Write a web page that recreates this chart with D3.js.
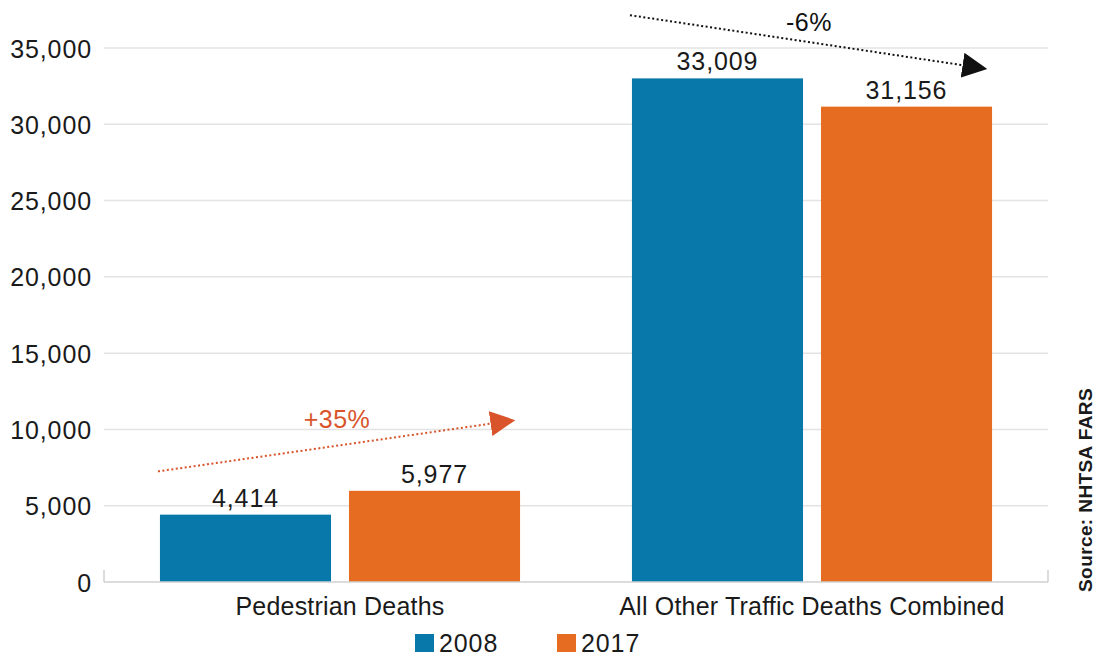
<!DOCTYPE html>
<html>
<head>
<meta charset="utf-8">
<script src="https://cdn.jsdelivr.net/npm/d3@7"></script>
<style>
  body { margin: 0; background: #fff; }
  text { font-family: "Liberation Sans", Arial, sans-serif; fill: #1a1a1a; }
</style>
</head>
<body>
<div id="chart"></div>
<script>
      var w = 1096;
      var h = 656;

      // data
      var categories = ['Pedestrian Deaths', 'All Other Traffic Deaths Combined'];
      var series = ['2008', '2017'];
      var values2008 = [4414, 33009];
      var values2017 = [5977, 31156];
      var yTicks = [0, 5000, 10000, 15000, 20000, 25000, 30000, 35000];
      var seriesColors = ['#0877aa', '#e66c22'];
      // change annotations: category index, arrow start / end value, label value
      var changes = [
        {cat: 0, from: 7250, to: 10400, labelAt: 10100, label: '+35%', color: '#d9542b'},
        {cat: 1, from: 37150, to: 33850, labelAt: 36100, label: '-6%', color: '#111'}
      ];

      var margin = {left: 104, right: 48, top: 48, bottom: 74};

      var svg = d3.select('#chart')
            .append('svg')
            .attr('width', w)
            .attr('height', h);

      var x0 = d3.scaleBand()
            .domain(categories)
            .range([margin.left, w - margin.right])
            .padding(0);

      var x1 = d3.scaleBand()
            .domain(series)
            .range([0, x0.bandwidth()])
            .paddingInner(0.095)
            .paddingOuter(0.296);

      var yScale = d3.scaleLinear()
            .domain([0, 35000])
            .range([h - margin.bottom, margin.top]);

      var fmt = d3.format(',');

      //gridlines
      svg.selectAll('.grid')
         .data(yTicks.slice(1))
         .enter().append('line')
         .attr('x1', margin.left)
         .attr('x2', w - margin.right)
         .attr('y1', function(d) { return yScale(d); })
         .attr('y2', function(d) { return yScale(d); })
         .style('stroke', '#e3e3e3')
         .style('stroke-width', 1.5);

      //y axis labels
      var yAxis = d3.axisLeft(yScale)
            .tickValues(yTicks)
            .tickFormat(fmt)
            .tickSize(0)
            .tickPadding(12);

      var gy = svg.append('g')
        .attr('transform', 'translate(' + margin.left + ',0)')
        .call(yAxis);
      gy.select('.domain').remove();
      gy.selectAll('text')
        .style('font-size', '25px')
        .style('letter-spacing', '0.9px')
        .style('font-family', '"Liberation Sans", Arial, sans-serif')
        .attr('dy', '0.36em')
        .style('fill', '#1a1a1a');

      //bars
      var rows = categories.map(function(c, i) {
        return [{cat: c, s: series[0], v: values2008[i], c: 0},
                {cat: c, s: series[1], v: values2017[i], c: 1}];
      });

      var groups = svg.selectAll('.group')
        .data(rows)
        .enter().append('g')
        .attr('transform', function(d, i) { return 'translate(' + x0(categories[i]) + ',0)'; });

      groups.selectAll('rect')
        .data(function(d) { return d; })
        .enter().append('rect')
        .attr('x', function(d) { return x1(d.s); })
        .attr('y', function(d) { return yScale(d.v); })
        .attr('width', x1.bandwidth())
        .attr('height', function(d) { return yScale(0) - yScale(d.v); })
        .style('fill', function(d) { return seriesColors[d.c]; });

      groups.selectAll('.val')
        .data(function(d) { return d; })
        .enter().append('text')
        .attr('x', function(d) { return x1(d.s) + x1.bandwidth() / 2; })
        .attr('y', function(d) { return yScale(d.v) - 8; })
        .attr('text-anchor', 'middle')
        .style('font-size', '25px')
        .style('letter-spacing', '0.9px')
        .text(function(d) { return fmt(d.v); });

      //baseline + end ticks
      svg.append('line')
        .attr('x1', margin.left).attr('x2', w - margin.right)
        .attr('y1', yScale(0)).attr('y2', yScale(0))
        .style('stroke', '#d0d0d0').style('stroke-width', 1.5);
      [margin.left, w - margin.right].forEach(function(xx) {
        svg.append('line')
          .attr('x1', xx).attr('x2', xx)
          .attr('y1', yScale(0) - 12).attr('y2', yScale(0))
          .style('stroke', '#d0d0d0').style('stroke-width', 1.5);
      });

      //category labels
      svg.selectAll('.cat')
        .data(categories)
        .enter().append('text')
        .attr('x', function(d) { return x0(d) + x0.bandwidth() / 2; })
        .attr('y', yScale(0) + 33)
        .attr('text-anchor', 'middle')
        .style('font-size', '25px')
        .style('letter-spacing', '0.2px')
        .text(function(d) { return d; });

      //arrows
      var defs = svg.append('defs');
      changes.forEach(function(d, i) {
        defs.append('marker')
          .attr('id', 'arr' + i)
          .attr('viewBox', '0 0 10 10')
          .attr('refX', 1).attr('refY', 5)
          .attr('markerUnits', 'userSpaceOnUse')
          .attr('markerWidth', 25).attr('markerHeight', 25)
          .attr('orient', 'auto')
          .append('path')
          .attr('d', 'M0,0 L10,5 L0,10 Z')
          .style('fill', d.color);
      });

      var ann = svg.selectAll('.ann')
        .data(changes)
        .enter().append('g');

      ann.append('line')
        .attr('x1', function(d) { return x0(categories[d.cat]) + x1(series[0]) - 2; })
        .attr('x2', function(d) { return x0(categories[d.cat]) + x1(series[1]) + x1.bandwidth() - 27; })
        .attr('y1', function(d) { return yScale(d.from); })
        .attr('y2', function(d) { return yScale(d.to); })
        .style('stroke', function(d) { return d.color; })
        .style('stroke-width', 2)
        .style('stroke-dasharray', '2,2.5')
        .attr('marker-end', function(d, i) { return 'url(#arr' + i + ')'; });

      ann.append('text')
        .attr('x', function(d) { return x0(categories[d.cat]) + x0.bandwidth() / 2 - 3; })
        .attr('y', function(d) { return yScale(d.labelAt); })
        .attr('text-anchor', 'middle')
        .style('font-size', '25px')
        .style('letter-spacing', '0.5px')
        .style('fill', function(d) { return d.color; })
        .text(function(d) { return d.label; });

      //legend
      var legend = svg.selectAll('.legend')
        .data(series)
        .enter().append('g')
        .attr('transform', function(d, i) { return 'translate(' + (415 + i * 142) + ',' + 634 + ')'; });

      legend.append('rect')
        .attr('width', 19).attr('height', 18)
        .style('fill', function(d, i) { return seriesColors[i]; });

      legend.append('text')
        .attr('x', 24).attr('y', 18)
        .style('font-size', '25px')
        .style('letter-spacing', '0.9px')
        .text(function(d) { return d; });

      //source
      svg.append('text')
        .attr('transform', 'translate(1092,490) rotate(-90)')
        .attr('text-anchor', 'middle')
        .style('font-size', '19px')
        .style('font-weight', 'bold')
        .style('letter-spacing', '0.4px')
        .text('Source: NHTSA FARS');
</script>
</body>
</html>
